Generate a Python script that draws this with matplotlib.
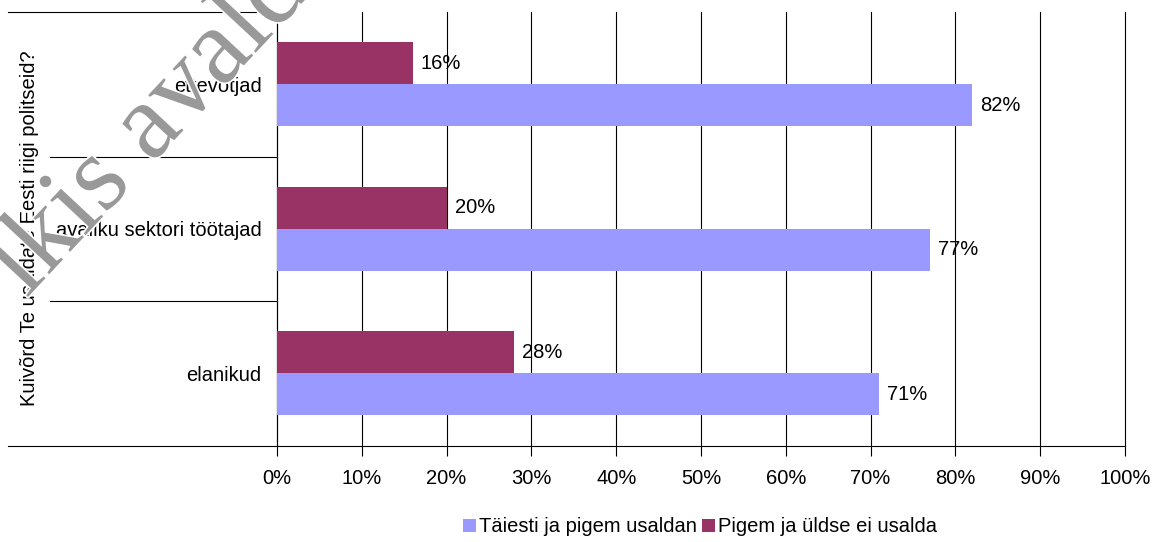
import matplotlib
matplotlib.use("Agg")
import matplotlib.pyplot as plt
from matplotlib.patches import Patch
from matplotlib.lines import Line2D
import matplotlib.transforms as mtransforms
import matplotlib.patheffects as pe

categories = ["elanikud", "avaliku sektori töötajad", "ettevõtjad"]
series_names = ["Täiesti ja pigem usaldan", "Pigem ja üldse ei usalda"]
trust = [71, 77, 82]
distrust = [28, 20, 16]
x_ticks = [0, 10, 20, 30, 40, 50, 60, 70, 80, 90, 100]
axis_title = "Kuivõrd Te usaldate Eesti riigi politseid?"
watermark = "lkis avald"

c_trust = "#9999FF"
c_distrust = "#993366"

plt.rcParams["font.family"] = ["Liberation Sans", "DejaVu Sans"]
fs = 14.5

W, H = 1159, 542
fig = plt.figure(figsize=(W / 100, H / 100), dpi=100)
ax = fig.add_axes([277 / W, 1 - 445.5 / H, (1125 - 277) / W, (445.5 - 12) / H])

ypos = list(range(len(categories)))
bh = 0.29
ax.barh([y - bh / 2 for y in ypos], trust, height=bh, color=c_trust, zorder=3)
ax.barh([y + bh / 2 for y in ypos], distrust, height=bh, color=c_distrust, zorder=3)

offset = mtransforms.offset_copy(ax.transData, fig=fig, x=8 / 100 * 72, y=0, units="points")
for y, v in zip(ypos, trust):
    ax.text(v, y - bh / 2, f"{v}%", va="center", ha="left", fontsize=fs, transform=offset, zorder=4)
for y, v in zip(ypos, distrust):
    ax.text(v, y + bh / 2, f"{v}%", va="center", ha="left", fontsize=fs, transform=offset, zorder=4)

ax.set_xlim(0, 100)
ax.set_ylim(-0.5, len(categories) - 0.5)
ax.set_xticks(x_ticks)
ax.set_xticklabels([f"{t}%" for t in x_ticks], fontsize=fs)
ax.set_yticks(ypos)
ax.set_yticklabels(categories, fontsize=fs)
ax.tick_params(axis="y", length=0, pad=11)
ax.tick_params(axis="x", length=7, width=0.8, color="black", pad=10)

for t in x_ticks:
    ax.axvline(t, color="black", lw=0.8, zorder=1, clip_on=False)

for s in ["top", "right"]:
    ax.spines[s].set_visible(False)
ax.spines["left"].set_linewidth(0.8)
ax.spines["bottom"].set_linewidth(0.8)

# multi-level category axis lines
trans = mtransforms.blended_transform_factory(ax.transAxes, ax.transData)
x_inner = (50 - 277) / (1125 - 277)
x_outer = (8 - 277) / (1125 - 277)
for b in [0.5, 1.5]:
    ax.add_line(Line2D([x_inner, 0], [b, b], transform=trans, color="black", lw=0.8, clip_on=False))
for b in [-0.5, len(categories) - 0.5]:
    ax.add_line(Line2D([x_outer, 0], [b, b], transform=trans, color="black", lw=0.8, clip_on=False))

fig.text(30 / W, 1 - 228 / H, axis_title, rotation=90, ha="center", va="center", fontsize=fs)

handles = [Patch(facecolor=c_trust, edgecolor="none"), Patch(facecolor=c_distrust, edgecolor="none")]
fig.legend(handles, series_names, loc="center", bbox_to_anchor=(700 / W, 1 - 527 / H), ncol=2,
           frameon=False, fontsize=fs, handlelength=0.6, handleheight=0.6, handletextpad=0.15,
           columnspacing=0.3)

# watermark
fig.text(150 / W, 1 - 128 / H, watermark, rotation=47, rotation_mode="anchor", ha="center", va="center",
         fontsize=78, family="Liberation Serif", color="#999999", zorder=10,
         path_effects=[pe.withStroke(linewidth=2.5, foreground="white")])

fig.savefig("out.png", dpi=100)
